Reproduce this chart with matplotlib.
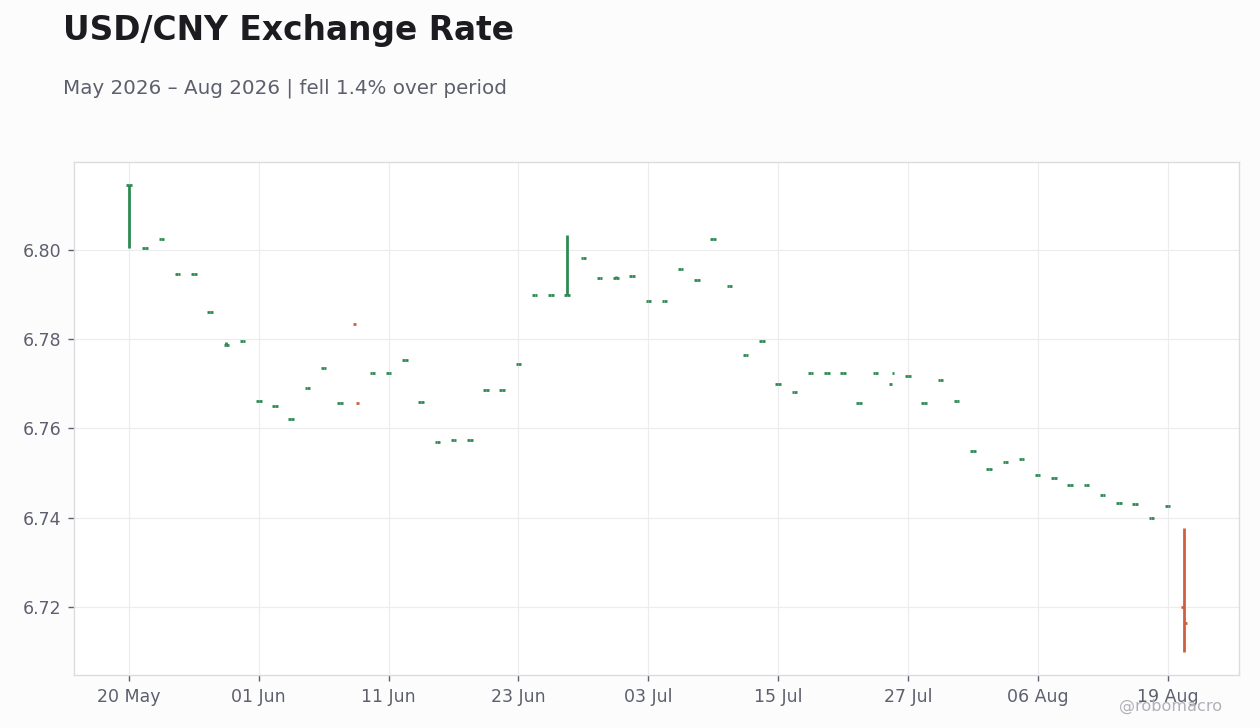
import matplotlib
matplotlib.use("Agg")
from matplotlib import pyplot as plt
import numpy as np

# OHLC values, one per trading day
opens = [6.8145, 6.8005, 6.8025, 6.7945, 6.7945, 6.7860, 6.7788, 6.7795, 6.7662, 6.7651,
         6.7622, 6.7691, 6.7736, 6.7656, 6.7833, 6.7725, 6.7725, 6.7754, 6.7660, 6.7570,
         6.7573, 6.7573, 6.7687, 6.7687, 6.7745, 6.7900, 6.7900, 6.7900, 6.7981, 6.7936,
         6.7936, 6.7942, 6.7886, 6.7886, 6.7958, 6.7933, 6.8025, 6.7920, 6.7765, 6.7795,
         6.7700, 6.7682, 6.7725, 6.7725, 6.7725, 6.7656, 6.7725, 6.7700, 6.7718, 6.7658,
         6.7709, 6.7662, 6.7550, 6.7510, 6.7524, 6.7532, 6.7496, 6.7488, 6.7474, 6.7474,
         6.7452, 6.7434, 6.7430, 6.7400, 6.7427, 6.7201]
highs = [6.8145, 6.8005, 6.8025, 6.7945, 6.7945, 6.7860, 6.7793, 6.7795, 6.7662, 6.7651,
         6.7622, 6.7691, 6.7736, 6.7656, 6.7656, 6.7725, 6.7725, 6.7754, 6.7660, 6.7570,
         6.7573, 6.7573, 6.7687, 6.7687, 6.7745, 6.7900, 6.7900, 6.8034, 6.7981, 6.7936,
         6.7941, 6.7942, 6.7886, 6.7886, 6.7958, 6.7933, 6.8025, 6.7920, 6.7765, 6.7795,
         6.7700, 6.7682, 6.7725, 6.7725, 6.7725, 6.7656, 6.7725, 6.7725, 6.7718, 6.7658,
         6.7709, 6.7662, 6.7550, 6.7510, 6.7524, 6.7532, 6.7496, 6.7488, 6.7474, 6.7474,
         6.7452, 6.7434, 6.7430, 6.7400, 6.7427, 6.7377]
lows = [6.8005, 6.8005, 6.8025, 6.7945, 6.7945, 6.7860, 6.7788, 6.7795, 6.7662, 6.7651,
        6.7622, 6.7691, 6.7736, 6.7656, 6.7656, 6.7725, 6.7725, 6.7754, 6.7660, 6.7570,
        6.7573, 6.7573, 6.7687, 6.7687, 6.7745, 6.7900, 6.7900, 6.7900, 6.7981, 6.7936,
        6.7936, 6.7942, 6.7886, 6.7886, 6.7958, 6.7933, 6.8025, 6.7920, 6.7765, 6.7795,
        6.7700, 6.7682, 6.7725, 6.7725, 6.7725, 6.7656, 6.7725, 6.7725, 6.7718, 6.7658,
        6.7709, 6.7662, 6.7550, 6.7510, 6.7524, 6.7532, 6.7496, 6.7488, 6.7474, 6.7474,
        6.7452, 6.7434, 6.7430, 6.7400, 6.7427, 6.7100]
closes = [6.8145, 6.8005, 6.8025, 6.7945, 6.7945, 6.7860, 6.7788, 6.7795, 6.7662, 6.7651,
          6.7622, 6.7691, 6.7736, 6.7656, 6.7656, 6.7725, 6.7725, 6.7754, 6.7660, 6.7570,
          6.7573, 6.7573, 6.7687, 6.7687, 6.7745, 6.7900, 6.7900, 6.7900, 6.7981, 6.7936,
          6.7936, 6.7942, 6.7886, 6.7886, 6.7958, 6.7933, 6.8025, 6.7920, 6.7765, 6.7795,
          6.7700, 6.7682, 6.7725, 6.7725, 6.7725, 6.7656, 6.7725, 6.7725, 6.7718, 6.7658,
          6.7709, 6.7662, 6.7550, 6.7510, 6.7524, 6.7532, 6.7496, 6.7488, 6.7474, 6.7474,
          6.7452, 6.7434, 6.7430, 6.7400, 6.7427, 6.7163]

tick_idx = [0, 8, 16, 24, 32, 40, 48, 56, 64]
tick_labels = ["20 May", "01 Jun", "11 Jun", "23 Jun", "03 Jul",
               "15 Jul", "27 Jul", "06 Aug", "19 Aug"]

UP = "#2e8a52"
DOWN = "#d0603d"
TEXT = "#5d5f6d"

o = np.array(opens); h = np.array(highs); l = np.array(lows); c = np.array(closes)
x = np.arange(len(o))
colors = [UP if cc >= oo else DOWN for oo, cc in zip(o, c)]

fig = plt.figure(figsize=(12.6, 7.28), dpi=100, facecolor="#fcfcfd")
ax = fig.add_axes([0.0587, 0.0728, 0.9246, 0.7047])
ax.set_facecolor("white")

w = 0.17
ax.vlines(x, l, h, colors=colors, linewidth=2, capstyle="butt", zorder=3)
ax.hlines(o, x - w, x, colors=colors, linewidth=2, capstyle="butt", zorder=3)
ax.hlines(c, x, x + w, colors=colors, linewidth=2, capstyle="butt", zorder=3)

ax.set_xlim(-3.39, 68.4)
ax.set_ylim(6.70476, 6.8197)
ax.set_xticks(tick_idx)
ax.set_xticklabels(tick_labels)
ax.set_yticks([6.72, 6.74, 6.76, 6.78, 6.80])
ax.set_yticklabels(["6.72", "6.74", "6.76", "6.78", "6.80"])

ax.grid(True, color="#ececee", linewidth=0.8, zorder=0)
ax.set_axisbelow(True)
for s in ax.spines.values():
    s.set_color("#dcdce0")
    s.set_linewidth(1)
ax.tick_params(axis="both", labelsize=12.5, labelcolor=TEXT, color="#5d5f6d",
               length=4, width=1, pad=5)

fig.text(0.05, 0.945, "USD/CNY Exchange Rate", fontsize=23.7, fontweight="bold",
         color="#1b1b20", ha="left", va="baseline")
fig.text(0.05, 0.872, "May 2026 \u2013 Aug 2026 | fell 1.4% over period", fontsize=14.3,
         color=TEXT, ha="left", va="baseline")
fig.text(0.970, 0.023, "@robomacro", fontsize=11.6, color="#b0b0b8", ha="right",
         va="baseline", zorder=0)

fig.savefig("out.png", dpi=100, facecolor=fig.get_facecolor())
